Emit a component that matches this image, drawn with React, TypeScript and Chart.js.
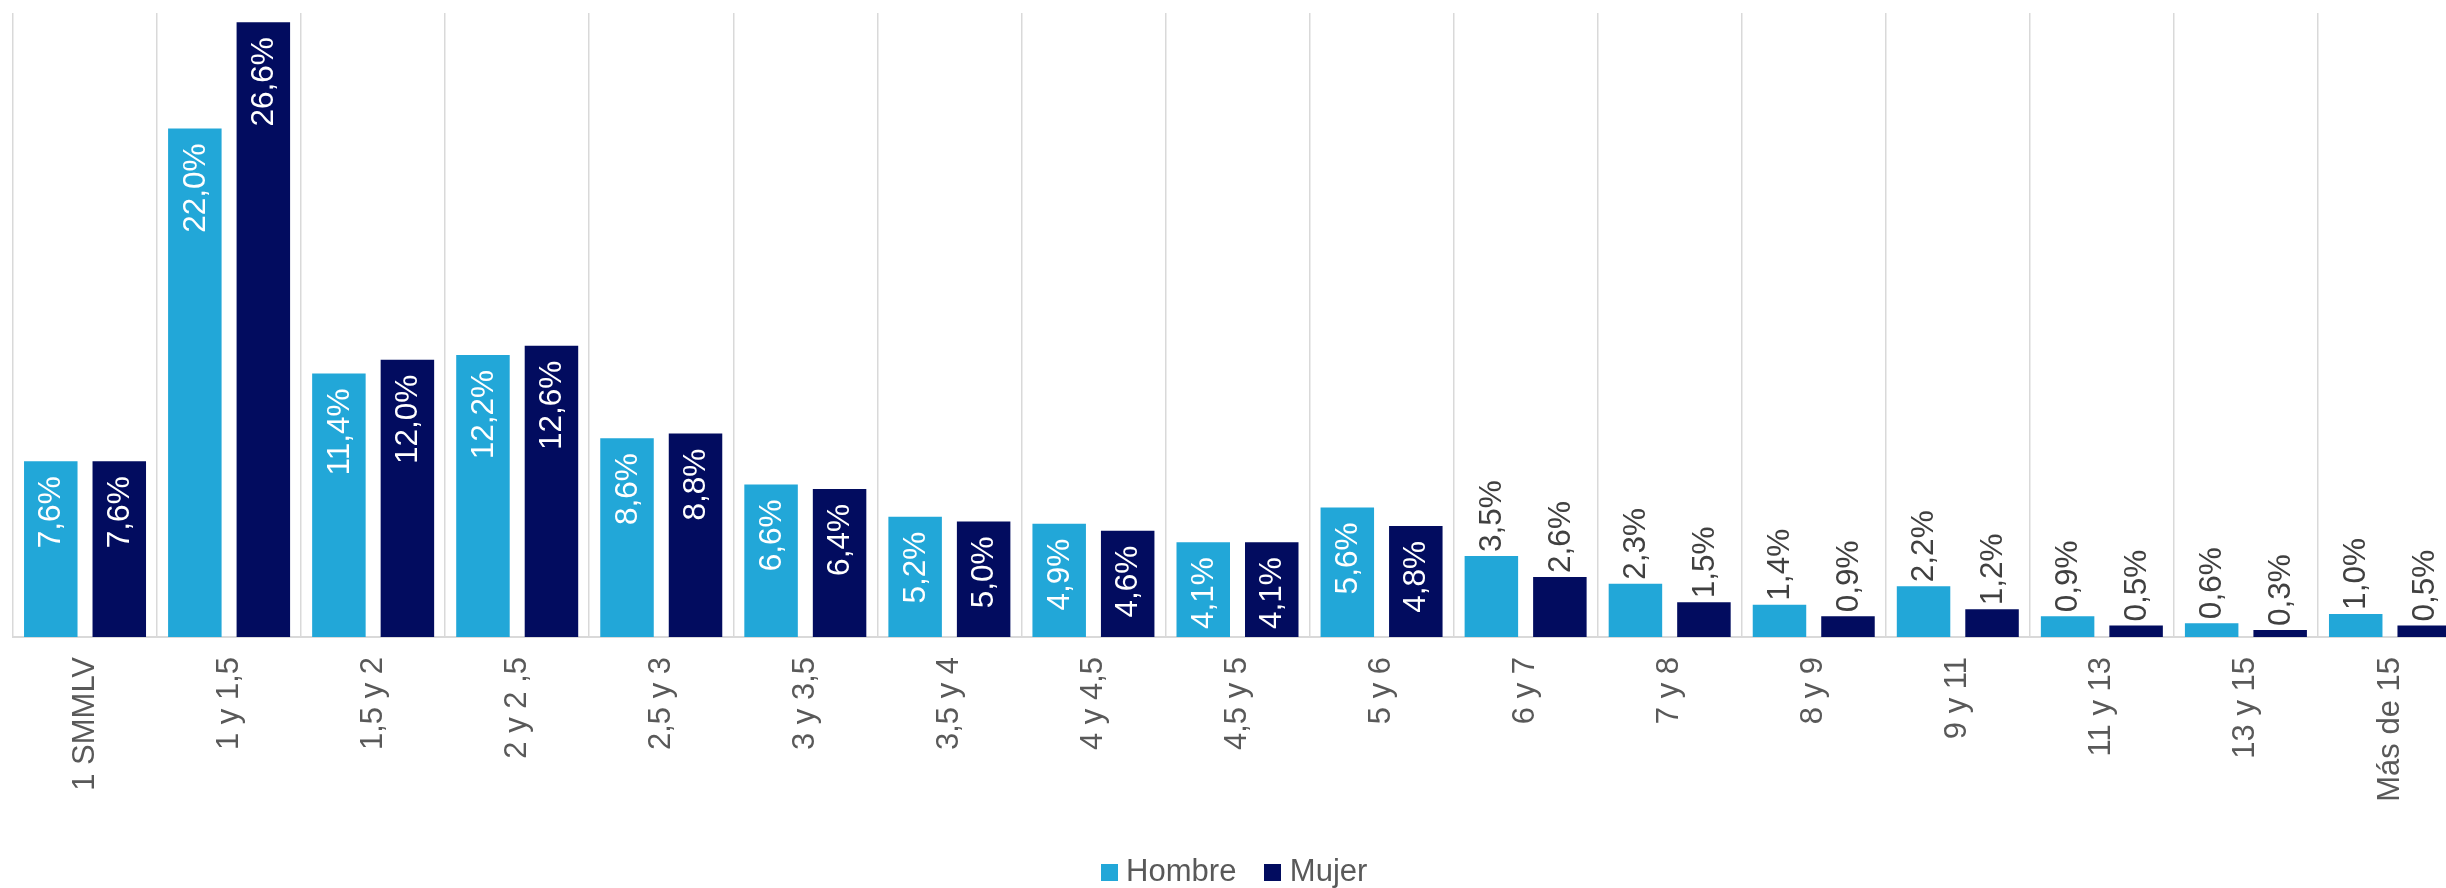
import React, { useEffect, useRef } from "react";
import { Chart, registerables } from "chart.js";

Chart.register(...registerables);

const categories = [
  "1 SMMLV", "1 y 1,5", "1,5 y 2", "2 y 2 ,5", "2,5 y 3", "3 y 3,5", "3,5 y 4",
  "4 y 4,5", "4,5 y 5", "5 y 6", "6 y 7", "7 y 8", "8 y 9", "9 y 11",
  "11 y 13", "13 y 15", "Más de 15",
];
const hombre = [7.6, 22.0, 11.4, 12.2, 8.6, 6.6, 5.2, 4.9, 4.1, 5.6, 3.5, 2.3, 1.4, 2.2, 0.9, 0.6, 1.0];
const mujer = [7.6, 26.6, 12.0, 12.6, 8.8, 6.4, 5.0, 4.6, 4.1, 4.8, 2.6, 1.5, 0.9, 1.2, 0.5, 0.3, 0.5];
const seriesNames = ["Hombre", "Mujer"];
const seriesColors = ["#22A7D8", "#020C5F"];
const yMax = 27;

const FONT = "'Liberation Sans', Arial, sans-serif";

const fmt = (v: number) => v.toFixed(1).replace(".", ",") + "%";

const labelPlugin = {
  id: "barLabels",
  afterDatasetsDraw(chart: any) {
    const ctx = chart.ctx;
    ctx.save();
    ctx.font = `31.5px ${FONT}`;
    ctx.textBaseline = "middle";
    chart.data.datasets.forEach((ds: any, di: number) => {
      const meta = chart.getDatasetMeta(di);
      meta.data.forEach((el: any, i: number) => {
        const v = ds.data[i] as number;
        const text = fmt(v);
        ctx.save();
        ctx.translate(el.x, el.y);
        ctx.rotate(-Math.PI / 2);
        if (v >= 4) {
          ctx.fillStyle = "#ffffff";
          ctx.textAlign = "right";
          ctx.fillText(text, -15, 1);
        } else {
          ctx.fillStyle = "#404040";
          ctx.textAlign = "left";
          ctx.fillText(text, 4, 1);
        }
        ctx.restore();
      });
    });
    ctx.restore();
  },
};

function swatch(color: string) {
  const c = document.createElement("canvas");
  c.width = 17;
  c.height = 17;
  const g = c.getContext("2d");
  if (g) {
    g.fillStyle = color;
    g.fillRect(0, 0, 17, 17);
  }
  return c;
}

function BarChart() {
  const ref = useRef<HTMLCanvasElement>(null);
  useEffect(() => {
    if (!ref.current) return;
    const chart = new Chart(ref.current, {
      type: "bar",
      data: {
        labels: categories,
        datasets: [
          {
            label: seriesNames[0],
            data: hombre,
            backgroundColor: seriesColors[0],
            pointStyle: swatch(seriesColors[0]),
            categoryPercentage: 0.951,
            barPercentage: 0.781,
          },
          {
            label: seriesNames[1],
            data: mujer,
            backgroundColor: seriesColors[1],
            pointStyle: swatch(seriesColors[1]),
            categoryPercentage: 0.951,
            barPercentage: 0.781,
          },
        ] as any,
      },
      options: {
        responsive: false,
        animation: false,
        devicePixelRatio: 1,
        layout: { padding: { top: 13, left: 13, right: 8, bottom: -10 } },
        plugins: {
          legend: {
            position: "bottom",
            labels: {
              usePointStyle: true,
              boxWidth: 3,
              boxHeight: 17,
              padding: 35,
              color: "#595959",
              font: { family: FONT, size: 31 },
            },
          },
          tooltip: { enabled: false },
        },
        scales: {
          x: {
            grid: {
              display: true,
              offset: true,
              color: "#d9d9d9",
              lineWidth: 1.5,
              drawTicks: false,
            },
            border: { display: true, color: "#d9d9d9", width: 2 },
            ticks: {
              autoSkip: false,
              maxRotation: 90,
              minRotation: 90,
              padding: 20,
              color: "#595959",
              font: { family: FONT, size: 31 },
            },
            afterFit: (scale: any) => {
              scale.height = 185;
            },
          },
          y: {
            display: false,
            min: 0,
            max: yMax,
          },
        },
      } as any,
      plugins: [labelPlugin],
    });
    return () => chart.destroy();
  }, []);
  return <canvas ref={ref} width={2470} height={888} style={{ display: "block" }} />;
}

export default function App() {
  return (
    <div
      style={{
        position: "fixed",
        left: 0,
        top: 0,
        width: 2446,
        height: 888,
        overflow: "hidden",
        background: "#ffffff",
      }}
    >
      <BarChart />
    </div>
  );
}
